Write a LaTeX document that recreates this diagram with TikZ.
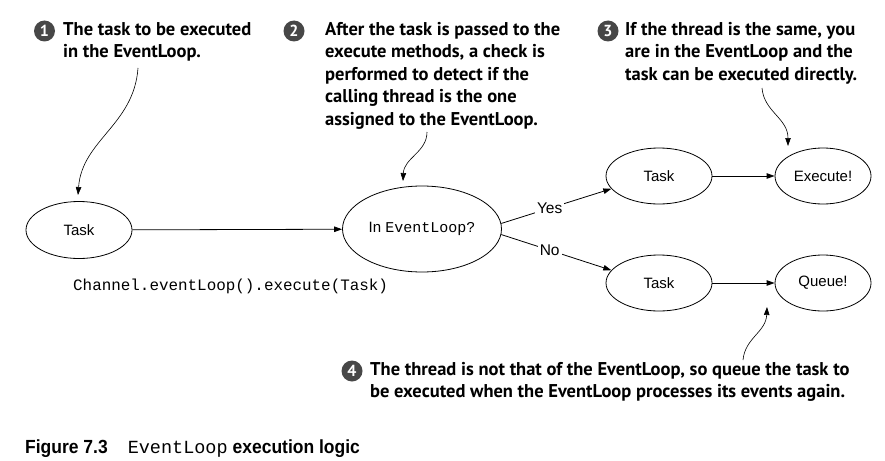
\documentclass[tikz,border=0pt]{standalone}
\usepackage{fontspec}
\setsansfont{Liberation Sans}
\setmonofont{Liberation Mono}
\newfontfamily\annfont{PT Sans}
\newfontfamily\capfont[FakeStretch=0.92]{Liberation Sans}
\usetikzlibrary{shapes.geometric,arrows.meta}
\begin{document}
\begin{tikzpicture}[x=1pt,y=-1pt,
  ell/.style={ellipse,draw,line width=0.8pt,inner sep=0pt,font=\sffamily\fontsize{15}{18}\selectfont},
  flow/.style={line width=0.8pt,-{Triangle[length=8pt,width=5.5pt]}},
  callout/.style={line width=0.6pt,-{Triangle[length=8pt,width=5.5pt]}},
  num/.style={circle,fill=black!72,text=white,minimum size=21pt,inner sep=0pt,font=\annfont\bfseries\fontsize{16}{16}\selectfont},
  ann/.style={anchor=north west,inner sep=0pt,align=left,font=\annfont\bfseries\fontsize{18.5}{22.5}\selectfont},
  lbl/.style={fill=white,inner sep=2pt,font=\sffamily\fontsize{15.5}{18}\selectfont}]
\useasboundingbox (0,0) rectangle (885,460);

% nodes
\node[ell,minimum width=106pt,minimum height=57pt] (task) at (79,230) {Task};
\node[ell,minimum width=159pt,minimum height=86pt] (ie) at (422,229) {In \texttt{EventLoop?}};
\node[ell,minimum width=106pt,minimum height=56pt] (tyes) at (659,176) {Task};
\node[ell,minimum width=96pt,minimum height=56pt] (exec) at (823,176) {Execute!};
\node[ell,minimum width=106pt,minimum height=56pt] (tno) at (659,283) {Task};
\node[ell,minimum width=96pt,minimum height=56pt] (queue) at (823,283) {Queue!};

\node[anchor=base west,inner sep=0pt,font=\ttfamily\fontsize{15.9}{18}\selectfont] (call) at (73,290) {Channel.eventLoop().execute(Task)};

% flow connectors
\draw[flow] (task) -- (ie);
\draw[flow] (ie.4) -- node[lbl,pos=0.44] (yes) {Yes} (tyes.195);
\draw[flow] (ie.-4) -- node[lbl,pos=0.44] (no) {No} (tno.165);
\draw[flow] (tyes) -- (exec);
\draw[flow] (tno) -- (queue);

% annotations
\node[num] (n1) at (44.5,31) {1};
\node[ann] (a1) at (63,22) {The task to be executed\\in the EventLoop.};
\node[num] (n2) at (294,31) {2};
\node[ann] (a2) at (325,22) {After the task is passed to the\\execute methods, a check is\\performed to detect if the\\calling thread is the one\\assigned to the EventLoop.};
\node[num] (n3) at (608,31) {3};
\node[ann] (a3) at (625,22) {If the thread is the same, you\\are in the EventLoop and the\\task can be executed directly.};
\node[num] (n4) at (352,371) {4};
\node[ann] (a4) at (370,362) {The thread is not that of the EventLoop, so queue the task to\\be executed when the EventLoop processes its events again.};

% callout arrows
\coordinate (s1) at (138,68);  \coordinate (e1) at (78,195);
\coordinate (s2) at (427,132); \coordinate (e2) at (403,181);
\coordinate (s3) at (762,88);  \coordinate (e3) at (788,146);
\coordinate (s4) at (743,360); \coordinate (e4) at (767,307);
\draw[callout] (s1) .. controls (134,125) and (82,140) .. (e1);
\draw[callout] (s2) .. controls (427,152) and (404,158) .. (e2);
\draw[callout] (s3) .. controls (764,112) and (788,118) .. (e3);
\draw[callout] (s4) .. controls (745,338) and (766,332) .. (e4);

% caption
\node[anchor=base west,inner sep=0pt] (cap) at (25,453) {{\capfont\bfseries\fontsize{19}{20}\selectfont Figure 7.3}\hspace{20pt}{\ttfamily\fontsize{18.5}{20}\selectfont EventLoop}\hspace{5pt}{\capfont\bfseries\fontsize{19}{20}\selectfont execution logic}};
\end{tikzpicture}
\end{document}
